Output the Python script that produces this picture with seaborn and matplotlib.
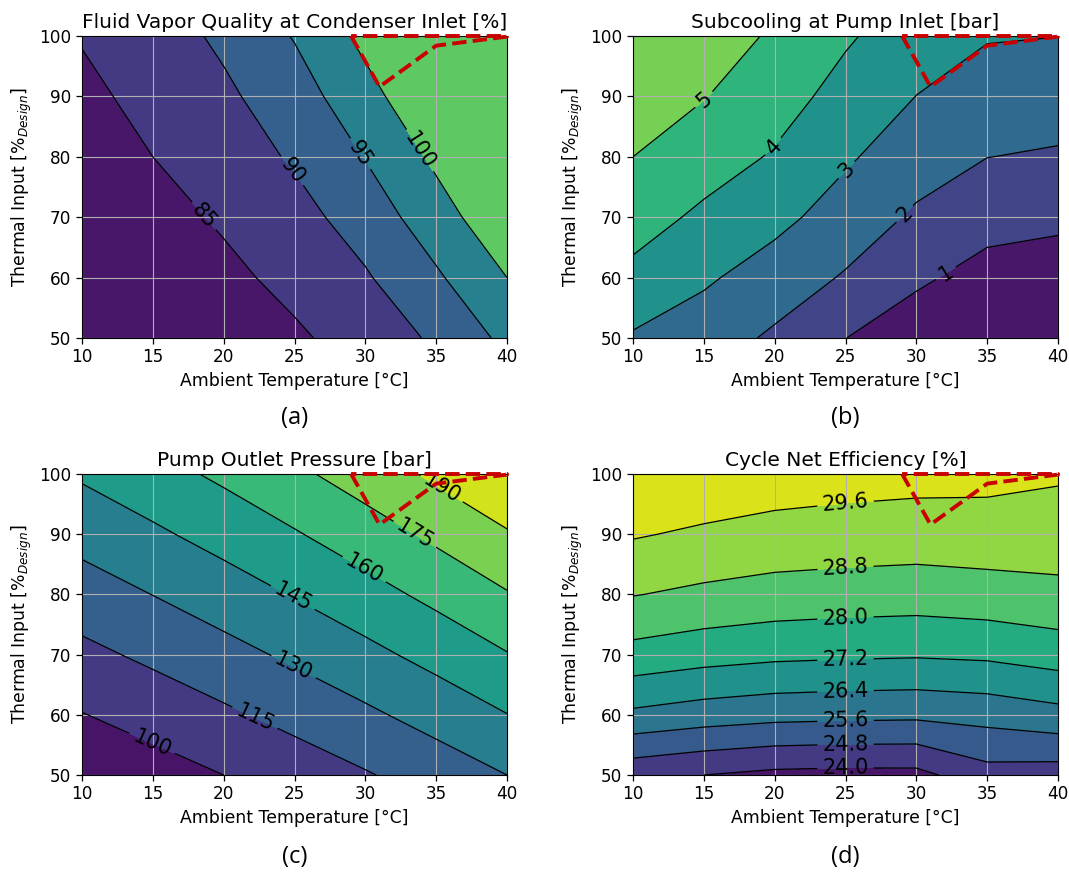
import numpy as np
import matplotlib
matplotlib.use("Agg")
import matplotlib.pyplot as plt
import seaborn as sns

sns.set_style("ticks", {"axes.edgecolor": "black", "xtick.color": "black", "ytick.color": "black",
                        "text.color": "black", "axes.labelcolor": "black"})
plt.rcParams['font.family'] = ['DejaVu Sans']

# Grid axes
ambient_temp = [10, 15, 20, 25, 30, 35, 40]          # °C
thermal_input = [50, 60, 70, 80, 90, 100]            # % of design

# Rows: thermal input 50 -> 100, columns: ambient temperature 10 -> 40
vapor_quality = [
    [77.6, 79.8, 82.0, 84.3, 86.9, 90.8, 96.2],
    [79.2, 81.6, 83.9, 86.3, 89.5, 94.3, 100.0],
    [80.9, 83.3, 85.6, 88.3, 92.2, 97.8, 103.8],
    [82.5, 85.0, 87.4, 90.6, 95.2, 101.0, 107.1],
    [83.9, 86.4, 89.1, 92.7, 98.3, 104.3, 110.4],
    [85.3, 87.7, 90.9, 95.3, 101.3, 107.4, 113.6],
]
subcooling = [
    [2.89, 2.49, 1.84, 1.01, 0.42, 0.15, 0.05],
    [3.75, 3.14, 2.55, 1.91, 1.17, 0.64, 0.42],
    [4.42, 3.81, 3.27, 2.57, 1.85, 1.36, 1.25],
    [5.00, 4.45, 3.91, 3.13, 2.46, 2.01, 1.90],
    [5.65, 5.04, 4.41, 3.66, 2.99, 2.59, 2.44],
    [6.31, 5.59, 4.85, 4.12, 3.48, 3.06, 3.01],
]
pump_pressure = [
    [87.5, 93.7, 100.0, 106.7, 113.8, 121.6, 130.0],
    [99.5, 105.8, 112.5, 119.6, 127.3, 135.7, 144.7],
    [111.3, 118.0, 125.1, 132.7, 141.0, 149.8, 159.3],
    [123.1, 130.2, 137.8, 145.9, 154.5, 163.8, 174.0],
    [135.0, 142.5, 150.4, 158.8, 168.0, 178.1, 188.7],
    [146.9, 154.6, 162.8, 172.0, 182.0, 192.8, 203.5],
]
efficiency = [
    [24.24, 24.00, 23.81, 23.76, 23.77, 24.50, 24.42],
    [26.24, 26.01, 25.86, 25.80, 25.77, 25.89, 26.14],
    [27.73, 27.52, 27.38, 27.32, 27.28, 27.35, 27.58],
    [28.83, 28.64, 28.50, 28.43, 28.39, 28.48, 28.59],
    [29.67, 29.47, 29.32, 29.26, 29.21, 29.25, 29.24],
    [30.46, 30.22, 30.03, 29.92, 29.86, 29.82, 29.69],
]

# Contour line levels
levels_quality = [85, 90, 95, 100]
levels_subcool = [1, 2, 3, 4, 5]
levels_pressure = [100, 115, 130, 145, 160, 175, 190]
levels_eff = [24.0, 24.8, 25.6, 26.4, 27.2, 28.0, 28.8, 29.6]

# Infeasible operating region boundary (red dashed)
infeasible_temp = [29.0, 31.0, 35.0, 40.0, 40.0, 29.0]
infeasible_input = [100.0, 91.6, 98.4, 99.9, 100.0, 100.0]

W, H = 1069, 875
def pos(l, r, t, b):
    return [l / W, 1 - b / H, (r - l) / W, (b - t) / H]

panels = [
    dict(Z=vapor_quality, title='Fluid Vapor Quality at Condenser Inlet [%]', lines=levels_quality,
         fracs=[0.06, 0.17, 0.30, 0.43, 0.75], fmt='%d',
         manual=[(18.5, 70), (25, 78), (30, 81), (34.5, 82)], tag='(a)', pos=pos(82, 507, 36, 338), ty=418),
    dict(Z=subcooling, title='Subcooling at Pump Inlet [bar]', lines=levels_subcool,
         fracs=[0.06, 0.20, 0.34, 0.50, 0.65, 0.79], fmt='%d',
         manual=[(32, 61), (29, 71), (25, 78), (20, 81.5), (15, 89.5)], tag='(b)', pos=pos(633, 1058, 36, 338), ty=418),
    dict(Z=pump_pressure, title='Pump Outlet Pressure [bar]', lines=levels_pressure,
         fracs=[0.053, 0.17, 0.297, 0.423, 0.55, 0.675, 0.80, 0.93], fmt='%d',
         manual=[(15, 55.5), (22.3, 60), (25, 68.3), (25, 80), (30, 84.5), (33.5, 90), (35.5, 98)],
         tag='(c)', pos=pos(82, 507, 474, 775), ty=857),
    dict(Z=efficiency, title='Cycle Net Efficiency [%]', lines=levels_eff,
         fracs=[(k + 0.5) / 9 for k in range(9)], fmt='%.1f',
         manual=[(25, 51.2), (25, 55.1), (25, 59), (25, 64), (25, 69.2), (25, 76.2), (25, 84.4), (25, 95.2)],
         tag='(d)', pos=pos(633, 1058, 474, 775), ty=857),
]

vir = sns.color_palette("viridis", as_cmap=True)
fig = plt.figure(figsize=(W / 100, H / 100), dpi=100)
for p in panels:
    ax = fig.add_axes(p['pos'])
    Z = np.array(p['Z'])
    ax.contourf(ambient_temp, thermal_input, Z, levels=p['lines'],
                colors=[vir(f) for f in p['fracs']], extend='both', zorder=1)
    cs = ax.contour(ambient_temp, thermal_input, Z, levels=p['lines'], colors='black', linewidths=0.9, zorder=2)
    ax.clabel(cs, fmt=p['fmt'], fontsize=15, manual=p['manual'], inline=True)
    ax.plot(infeasible_temp, infeasible_input, color='#c80000', ls='--', lw=2.8, clip_on=False, zorder=5)
    ax.set_xlim(10, 40); ax.set_ylim(50, 100)
    ax.set_xticks(ambient_temp); ax.set_yticks(thermal_input)
    ax.grid(True, color='#b0b0b0', lw=0.8)
    ax.set_axisbelow('line')
    ax.tick_params(labelsize=12.2, length=4, width=0.9)
    ax.set_title(p['title'], fontsize=14.5, pad=6)
    ax.set_xlabel('Ambient Temperature [°C]', fontsize=12.4)
    ax.set_ylabel('Thermal Input [%$_{Design}$]', fontsize=12.4)
    x0, y0, w, h = p['pos']
    fig.text(x0 + w / 2, 1 - p['ty'] / H, p['tag'], ha='center', va='center', fontsize=17,
             family=['Open Sans', 'DejaVu Sans'])

fig.savefig('out.png', dpi=100)
